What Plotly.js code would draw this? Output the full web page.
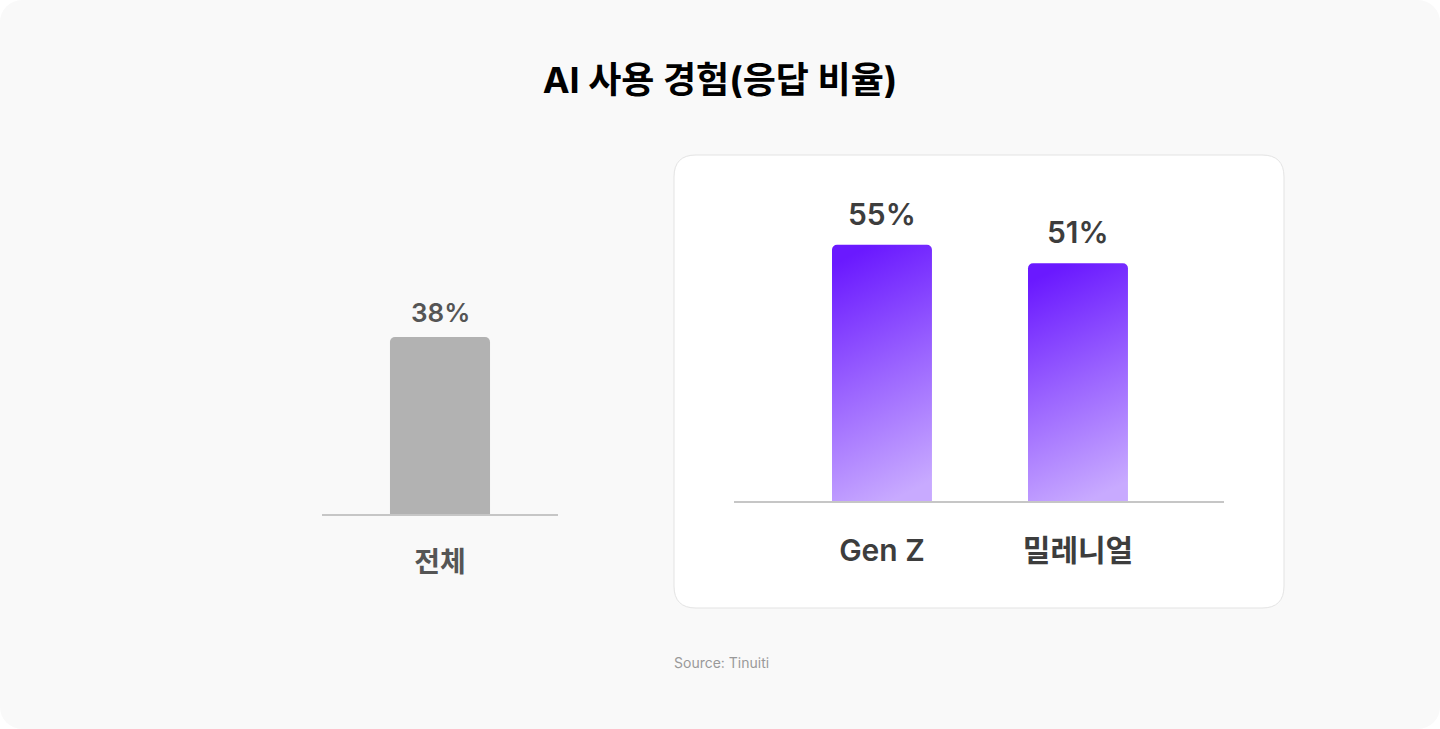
<!DOCTYPE html>
<html>
<head>
<meta charset="utf-8">
<script src="https://cdn.plot.ly/plotly-3.0.1.min.js"></script>
<style>
  html, body { margin: 0; padding: 0; background: #ffffff; }
  #wrap { width: 1440px; height: 729px; background: #f9f9f9; border-radius: 22px; overflow: hidden; }
  #chart { width: 1440px; height: 729px; }
</style>
</head>
<body>
<div id="wrap"><div id="chart"></div></div>
<script>
// data
var totalLabels = ['전체'];
var totalValues = [38];
var genLabels = ['Gen Z', '밀레니얼'];
var genValues = [55, 51];
var titleText = 'AI 사용 경험(응답 비율)';
var sourceText = 'Source: Tinuiti';

var FONT = 'Inter, "Noto Sans CJK KR", "Noto Sans", sans-serif';
var W = 1440, H = 729;
function px(x) { return x / W; }
function py(y) { return (H - y) / H; }

var traces = [
  {
    type: 'bar', x: totalLabels, y: totalValues, xaxis: 'x', yaxis: 'y',
    width: 0.424, marker: { color: '#b2b2b2' }, hoverinfo: 'skip'
  },
  {
    type: 'bar', x: genLabels, y: genValues, xaxis: 'x2', yaxis: 'y2',
    width: 0.51, marker: { color: '#8a4dff' }, hoverinfo: 'skip'
  }
];

// value labels above the bars
var notes = [];
totalLabels.forEach(function (c, i) {
  notes.push({
    xref: 'x', yref: 'y', x: c, y: totalValues[i], text: totalValues[i] + '%',
    showarrow: false, yanchor: 'bottom', yshift: 7,
    font: { family: FONT, size: 26, color: '#555555', weight: 600 }
  });
});
genLabels.forEach(function (c, i) {
  notes.push({
    xref: 'x2', yref: 'y2', x: c, y: genValues[i], text: genValues[i] + '%',
    showarrow: false, yanchor: 'bottom', yshift: 11,
    font: { family: FONT, size: 30, color: '#3d3d3d', weight: 600 }
  });
});
notes.push({
  xref: 'paper', yref: 'paper', x: px(672), y: py(662), xanchor: 'left', yanchor: 'middle',
  text: sourceText, showarrow: false,
  font: { family: FONT, size: 14, color: '#999999' }
});

// white rounded panel behind the right group
var bx0 = 674, bx1 = 1284, by0 = 155, by1 = 608, r = 22;
function P(x, y) { return px(x) + ',' + py(y); }
var panelPath = 'M' + P(bx0 + r, by0) + ' L' + P(bx1 - r, by0) +
  ' Q' + P(bx1, by0) + ' ' + P(bx1, by0 + r) + ' L' + P(bx1, by1 - r) +
  ' Q' + P(bx1, by1) + ' ' + P(bx1 - r, by1) + ' L' + P(bx0 + r, by1) +
  ' Q' + P(bx0, by1) + ' ' + P(bx0, by1 - r) + ' L' + P(bx0, by0 + r) +
  ' Q' + P(bx0, by0) + ' ' + P(bx0 + r, by0) + ' Z';

var PXPCT = 4.66;
var yTop = 60;

var layout = {
  width: W, height: H,
  margin: { l: 0, r: 0, t: 0, b: 0 },
  paper_bgcolor: 'rgba(0,0,0,0)',
  plot_bgcolor: 'rgba(0,0,0,0)',
  showlegend: false,
  barcornerradius: 5,
  font: { family: FONT },
  title: {
    text: titleText, x: 0.5, xanchor: 'center', y: py(80), yanchor: 'middle',
    font: { family: FONT, size: 36, color: '#000000', weight: 700 }
  },
  xaxis: {
    domain: [px(322), px(558)], range: [-0.5, 0.5], type: 'category',
    showline: true, linecolor: '#c6c6c6', linewidth: 2, showgrid: false, zeroline: false,
    ticks: '', ticklabelstandoff: 22,
    tickfont: { family: FONT, size: 28, color: '#555555', weight: 600 }
  },
  yaxis: {
    domain: [py(514), py(514 - yTop * PXPCT)], range: [0, yTop],
    visible: false, fixedrange: true
  },
  xaxis2: {
    domain: [px(734), px(1224)], range: [-0.755, 1.745], type: 'category',
    anchor: 'y2',
    showline: true, linecolor: '#c6c6c6', linewidth: 2, showgrid: false, zeroline: false,
    ticks: '', ticklabelstandoff: 22,
    tickfont: { family: FONT, size: 30, color: '#3d3d3d', weight: 600 }
  },
  yaxis2: {
    domain: [py(501), py(501 - yTop * PXPCT)], range: [0, yTop],
    anchor: 'x2', visible: false, fixedrange: true
  },
  annotations: notes,
  shapes: [{
    type: 'path', xref: 'paper', yref: 'paper', path: panelPath, layer: 'below',
    fillcolor: '#ffffff', line: { color: '#e3e3e3', width: 1 }
  }]
};

Plotly.newPlot('chart', traces, layout, { displayModeBar: false, staticPlot: true }).then(function (gd) {
  // purple gradient fill on the right bars
  var svg = gd.querySelector('svg.main-svg');
  var ns = 'http://www.w3.org/2000/svg';
  var defs = svg.querySelector('defs') || svg.insertBefore(document.createElementNS(ns, 'defs'), svg.firstChild);
  var grad = document.createElementNS(ns, 'linearGradient');
  grad.setAttribute('id', 'purpleGrad');
  grad.setAttribute('x1', '0.4'); grad.setAttribute('y1', '0');
  grad.setAttribute('x2', '0.6'); grad.setAttribute('y2', '1');
  [['0', '#6a19ff'], ['0.5', '#9a63ff'], ['1', '#c8aaff']].forEach(function (s) {
    var st = document.createElementNS(ns, 'stop');
    st.setAttribute('offset', s[0]);
    st.setAttribute('stop-color', s[1]);
    grad.appendChild(st);
  });
  defs.appendChild(grad);
  var bars = gd.querySelectorAll('.barlayer .trace');
  if (bars[1]) {
    bars[1].querySelectorAll('path').forEach(function (p) {
      p.style.fill = 'url(#purpleGrad)';
    });
  }
});
</script>
</body>
</html>
